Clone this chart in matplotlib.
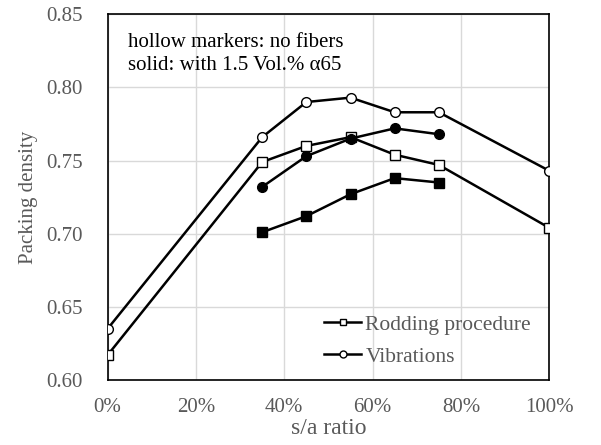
import matplotlib.pyplot as plt
from matplotlib.ticker import FuncFormatter

plt.rcParams['font.family'] = ['Liberation Serif', 'DejaVu Serif']

# s/a ratio in percent
sa_all = [0, 35, 45, 55, 65, 75, 100]
sa_fib = [35, 45, 55, 65, 75]

rod_plain = [0.617, 0.749, 0.760, 0.766, 0.754, 0.747, 0.704]
vib_plain = [0.635, 0.766, 0.790, 0.793, 0.783, 0.783, 0.743]
rod_fib = [0.701, 0.712, 0.727, 0.738, 0.735]
vib_fib = [0.732, 0.753, 0.765, 0.772, 0.768]

grey = "#595959"

fig = plt.figure(figsize=(6.01, 4.45), dpi=100)
ax = fig.add_axes([0.179, 0.146, 0.735, 0.822])

ax.plot(sa_all, rod_plain, color="black", lw=1.8, marker="s", ms=7,
        mfc="white", mec="black", mew=1.0, label="Rodding procedure", zorder=3)
ax.plot(sa_all, vib_plain, color="black", lw=1.8, marker="o", ms=7,
        mfc="white", mec="black", mew=1.0, label="Vibrations", zorder=3)
ax.plot(sa_fib, rod_fib, color="black", lw=1.8, marker="s", ms=7,
        mfc="black", mec="black", zorder=3)
ax.plot(sa_fib, vib_fib, color="black", lw=1.8, marker="o", ms=7,
        mfc="black", mec="black", zorder=3)

ax.set_xlim(0, 100)
ax.set_ylim(0.60, 0.85)
ax.set_xticks([0, 20, 40, 60, 80, 100])
ax.set_yticks([0.60, 0.65, 0.70, 0.75, 0.80, 0.85])
ax.xaxis.set_major_formatter(FuncFormatter(lambda v, p: f"{v:.0f}%"))
ax.yaxis.set_major_formatter(FuncFormatter(lambda v, p: f"{v:.2f}"))
ax.tick_params(length=0, labelsize=15, labelcolor=grey)
ax.tick_params(axis="x", pad=13)
ax.tick_params(axis="y", pad=18)
ax.grid(True, color="#d9d9d9", lw=1.0)
ax.set_axisbelow(True)
for s in ax.spines.values():
    s.set_color("black")
    s.set_linewidth(1.2)

ax.set_xlabel("s/a ratio", fontsize=17, color=grey, labelpad=1)
ax.set_ylabel("Packing density", fontsize=15, color=grey, labelpad=6)

ax.text(0.046, 0.95, "hollow markers: no fibers\nsolid: with 1.5 Vol.% \u03b165",
        transform=ax.transAxes, fontsize=15, va="top", linespacing=1.3)

leg = ax.legend(loc="upper left", bbox_to_anchor=(0.49, 0.178), frameon=False,
                fontsize=15.5, handlelength=1.72, handletextpad=0.2,
                labelspacing=0.55, borderaxespad=0, borderpad=0)
for h in leg.legend_handles:
    h.set_markersize(5)
    h.set_linewidth(1.8)
for t in leg.get_texts():
    t.set_color(grey)

fig.savefig("out.png", dpi=100)
